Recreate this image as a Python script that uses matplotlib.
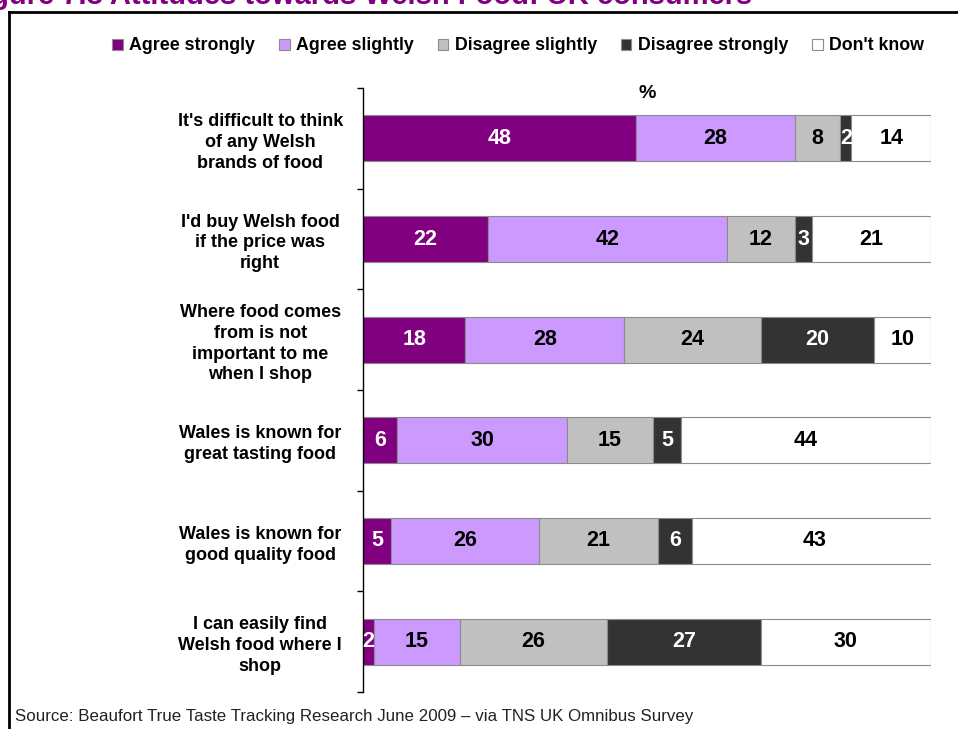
import matplotlib.pyplot as plt
from matplotlib.patches import Rectangle
import numpy as np

plt.rcParams['font.family'] = ['Liberation Sans', 'DejaVu Sans']

# Survey statements and response shares (%)
statements = [
    "It's difficult to think\nof any Welsh\nbrands of food",
    "I'd buy Welsh food\nif the price was\nright",
    "Where food comes\nfrom is not\nimportant to me\nwhen I shop",
    "Wales is known for\ngreat tasting food",
    "Wales is known for\ngood quality food",
    "I can easily find\nWelsh food where I\nshop",
]
responses = ['Agree strongly', 'Agree slightly', 'Disagree slightly',
             'Disagree strongly', "Don't know"]
agree_strongly = [48, 22, 18, 6, 5, 2]
agree_slightly = [28, 42, 28, 30, 26, 15]
disagree_slightly = [8, 12, 24, 15, 21, 26]
disagree_strongly = [2, 3, 20, 5, 6, 27]
dont_know = [14, 21, 10, 44, 43, 30]

series = [agree_strongly, agree_slightly, disagree_slightly, disagree_strongly, dont_know]
colors = ['#800080', '#CC99FF', '#C0C0C0', '#333333', '#FFFFFF']
text_colors = ['white', 'black', 'black', 'white', 'black']

fig = plt.figure(figsize=(9.58, 7.29), dpi=100)
ax = fig.add_axes([363 / 958, 1 - 692 / 729, 568 / 958, (692 - 88) / 729])

y = np.arange(len(statements))
left = np.zeros(len(statements))
for vals, col, tcol, name in zip(series, colors, text_colors, responses):
    vals = np.array(vals, dtype=float)
    ax.barh(y, vals, left=left, height=0.46, color=col, edgecolor='#8C8C8C',
            linewidth=0.8, label=name)
    for yi, (l, v) in enumerate(zip(left, vals)):
        ax.text(l + v / 2, yi, '%d' % v, ha='center', va='center',
                color=tcol, fontsize=15.5, fontweight='bold')
    left += vals

ax.set_xlim(0, 100)
ax.set_ylim(len(statements) - 0.5, -0.5)
ax.set_xticks([])
ax.set_yticks(np.arange(-0.5, len(statements), 1.0))
ax.set_yticklabels([])
ax.set_yticks(y, minor=True)
ax.set_yticklabels(statements, minor=True, fontsize=13, fontweight='bold',
                   ha='center', multialignment='center', linespacing=1.3)
ax.tick_params(axis='y', which='minor', length=0, pad=74)
ax.tick_params(axis='y', which='major', length=4.5, width=1, direction='out')
for s in ['top', 'right', 'bottom']:
    ax.spines[s].set_visible(False)
ax.spines['left'].set_linewidth(1)

fig.text(647 / 958, 1 - 93 / 729, '%', ha='center', va='center',
         fontsize=14, fontweight='bold')

# Legend along the top
handles = [Rectangle((0, 0), 1, 1, facecolor=c, edgecolor='#8C8C8C', linewidth=0.8)
           for c in colors]
fig.legend(handles, responses, loc='center', bbox_to_anchor=(518 / 958, 1 - 46 / 729),
           ncol=5, frameon=False, handlelength=0.6, handleheight=0.6,
           handletextpad=0.35, columnspacing=1.35, prop={'weight': 'bold', 'size': 12.8})

# Outer frame
fig.add_artist(plt.Line2D([9 / 958, 9 / 958], [0, 1 - 12 / 729], color='black',
                          linewidth=2, transform=fig.transFigure))
fig.add_artist(plt.Line2D([9 / 958, 1.0], [1 - 12 / 729, 1 - 12 / 729], color='black',
                          linewidth=2, transform=fig.transFigure))

fig.text(752 / 958, 1 - 4 / 729, 'Figure 7.3 Attitudes towards Welsh Food: UK consumers',
         ha='right', va='baseline', color='#800080', fontsize=21, fontweight='bold')

fig.text(15 / 958, 1 - 717 / 729,
         'Source: Beaufort True Taste Tracking Research June 2009 \u2013 via TNS UK Omnibus Survey',
         ha='left', va='center', fontsize=12.2, color='#222222')

fig.savefig('out.png', dpi=100)
